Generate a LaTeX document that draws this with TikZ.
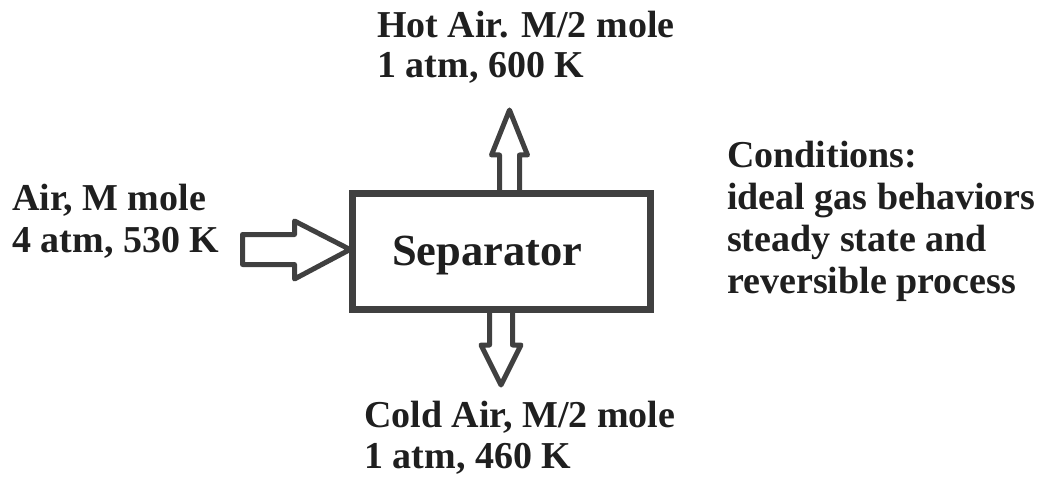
\documentclass[tikz,border=0pt]{standalone}
\usepackage{fontspec}
\setmainfont{Liberation Serif}
\begin{document}
\begin{tikzpicture}[x=1pt,y=-1pt,
  txt/.style={anchor=base west, inner sep=0pt, align=left, text=black!88,
    font=\bfseries\fontsize{38}{41.5}\selectfont},
  blockarrow/.style={draw=black!75, line width=5pt, line join=round, fill=white},
  boxstyle/.style={draw=black!75, line width=7pt, fill=white}]
\useasboundingbox (0,0) rectangle (1047,484);
% block arrows (drawn first, box covers shaft ends)
\draw[blockarrow] (499.5,200) -- (499.5,155) -- (491.5,155) -- (509.5,110) -- (527.5,155) -- (519.5,155) -- (519.5,200);
\draw[blockarrow] (489.5,300) -- (489.5,345) -- (481,345) -- (501,385) -- (521,345) -- (512.5,345) -- (512.5,300);
\draw[blockarrow] (242.5,234.5) -- (294.5,234.5) -- (294.5,221) -- (350,249.5) -- (294.5,279) -- (294.5,264.5) -- (242.5,264.5) -- cycle;
% separator box
\draw[boxstyle] (352,193) rectangle (650,309);
\node[txt, font=\bfseries\fontsize{44.5}{48}\selectfont] (sep) at (392,265) {Separator};
% labels (anchor = baseline of last line)
\node[txt, font=\bfseries\fontsize{38}{40}\selectfont] (hot) at (377,78) {Hot Air. M/2 mole\\1 atm, 600 K};
\node[txt, font=\bfseries\fontsize{38}{42}\selectfont] (air) at (12,252) {Air, M mole\\4 atm, 530 K};
\node[txt, font=\bfseries\fontsize{38}{41}\selectfont] (cold) at (364,468) {Cold Air, M/2 mole\\1 atm, 460 K};
\node[txt, font=\bfseries\fontsize{38}{42}\selectfont] (cond) at (727,293) {Conditions:\\ideal gas behaviors\\steady state and\\reversible process};
\end{tikzpicture}
\end{document}
